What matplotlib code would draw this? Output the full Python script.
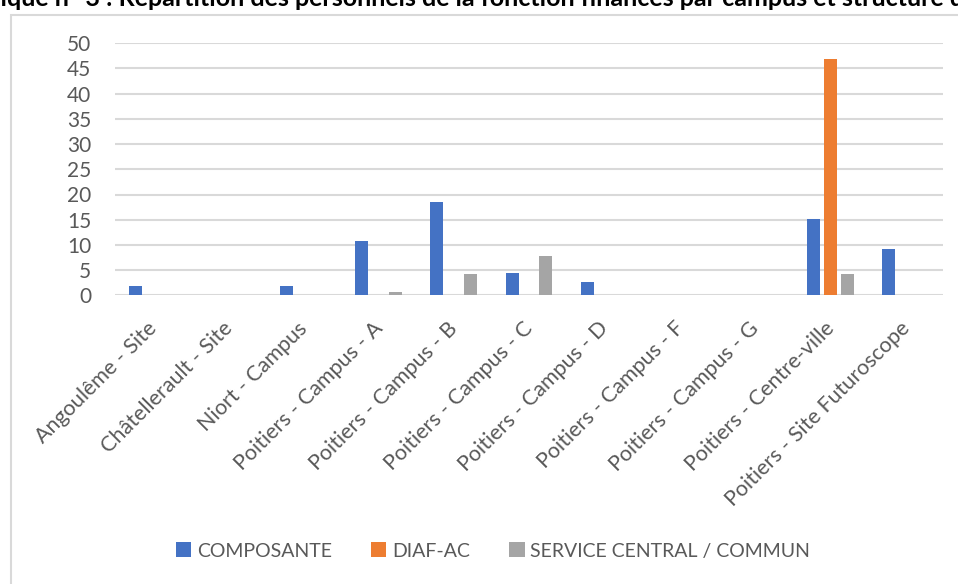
import matplotlib
matplotlib.use("Agg")
import matplotlib.pyplot as plt
import matplotlib.transforms as mtransforms
from matplotlib.patches import Rectangle, Patch
import numpy as np

categories = [
    "Angoulême - Site",
    "Châtellerault - Site",
    "Niort - Campus",
    "Poitiers - Campus - A",
    "Poitiers - Campus - B",
    "Poitiers - Campus - C",
    "Poitiers - Campus - D",
    "Poitiers - Campus - F",
    "Poitiers - Campus - G",
    "Poitiers - Centre-ville",
    "Poitiers - Site Futuroscope",
]
composante = [1.8, 0, 1.8, 10.8, 18.5, 4.4, 2.6, 0, 0, 15.1, 9.2]
diaf_ac = [0, 0, 0, 0, 0, 0, 0, 0, 0, 46.9, 0]
service_central = [0, 0, 0, 0.6, 4.2, 7.7, 0, 0, 0, 4.2, 0]
series_names = ["COMPOSANTE", "DIAF-AC", "SERVICE CENTRAL / COMMUN"]
y_ticks = [0, 5, 10, 15, 20, 25, 30, 35, 40, 45, 50]

title = ("Graphique n° 3 : Répartition des personnels de la fonction finances "
         "par campus et structure d'affectation")

colors = ["#4472C4", "#ED7D31", "#A5A5A5"]
text_color = "#595959"
grid_color = "#D9D9D9"
font = "Lato"

W, H = 958, 584
fig = plt.figure(figsize=(W / 100, H / 100), dpi=100)

# chart frame, running off the right and bottom edges
fig.patches.append(Rectangle((11 / W, -0.1), 1.2, 1 - 15 / H + 0.1,
                             transform=fig.transFigure, fill=False,
                             edgecolor=grid_color, linewidth=1.5))

ax = fig.add_axes([115 / W, 1 - 295.3 / H, (943 - 115) / W, (295.3 - 43.3) / H])

x = np.arange(len(categories))
slot = 17 / 75.3
bw = 13 / 75.3
for i, (vals, c) in enumerate(zip([composante, diaf_ac, service_central], colors)):
    ax.bar(x + (i - 1) * slot, vals, width=bw, color=c, zorder=3)

ax.set_xlim(-0.5, len(categories) - 0.5)
ax.set_ylim(0, 50)
ax.set_yticks(y_ticks)
ax.set_yticklabels([str(v) for v in y_ticks], fontsize=15, color=text_color,
                   family=font)
for v in y_ticks:
    ax.axhline(v, color=grid_color, linewidth=1.5, zorder=1)
for s in ax.spines.values():
    s.set_visible(False)
ax.tick_params(axis="both", length=0)
ax.tick_params(axis="y", pad=17)

ax.set_xticks(x)
ax.set_xticklabels(categories, rotation=45, ha="right", va="top",
                   rotation_mode="anchor", fontsize=15.5, color=text_color,
                   family=font)
offset = mtransforms.ScaledTranslation(-6 / 100, -18 / 100, fig.dpi_scale_trans)
for lbl in ax.get_xticklabels():
    lbl.set_transform(lbl.get_transform() + offset)

handles = [Patch(facecolor=c, edgecolor="none") for c in colors]
leg = fig.legend(handles, series_names, loc="center", ncol=3,
                 bbox_to_anchor=(493 / W, 1 - 551 / H), frameon=False,
                 handlelength=0.8, handleheight=0.8, handletextpad=0.3,
                 columnspacing=2.0,
                 prop={"family": font, "size": 14})
for t in leg.get_texts():
    t.set_color(text_color)

# title, partly cut by the top and side edges of the page
renderer = fig.canvas.get_renderer()
probe = fig.text(0, 0, "Graph", fontsize=18, fontweight="bold", family=font)
shift = probe.get_window_extent(renderer).width
probe.remove()
fig.text(-shift / W, 1 - 6 / H, title, fontsize=18, fontweight="bold",
         family=font, color="black", va="baseline", ha="left")

fig.savefig("out.png", dpi=100)
